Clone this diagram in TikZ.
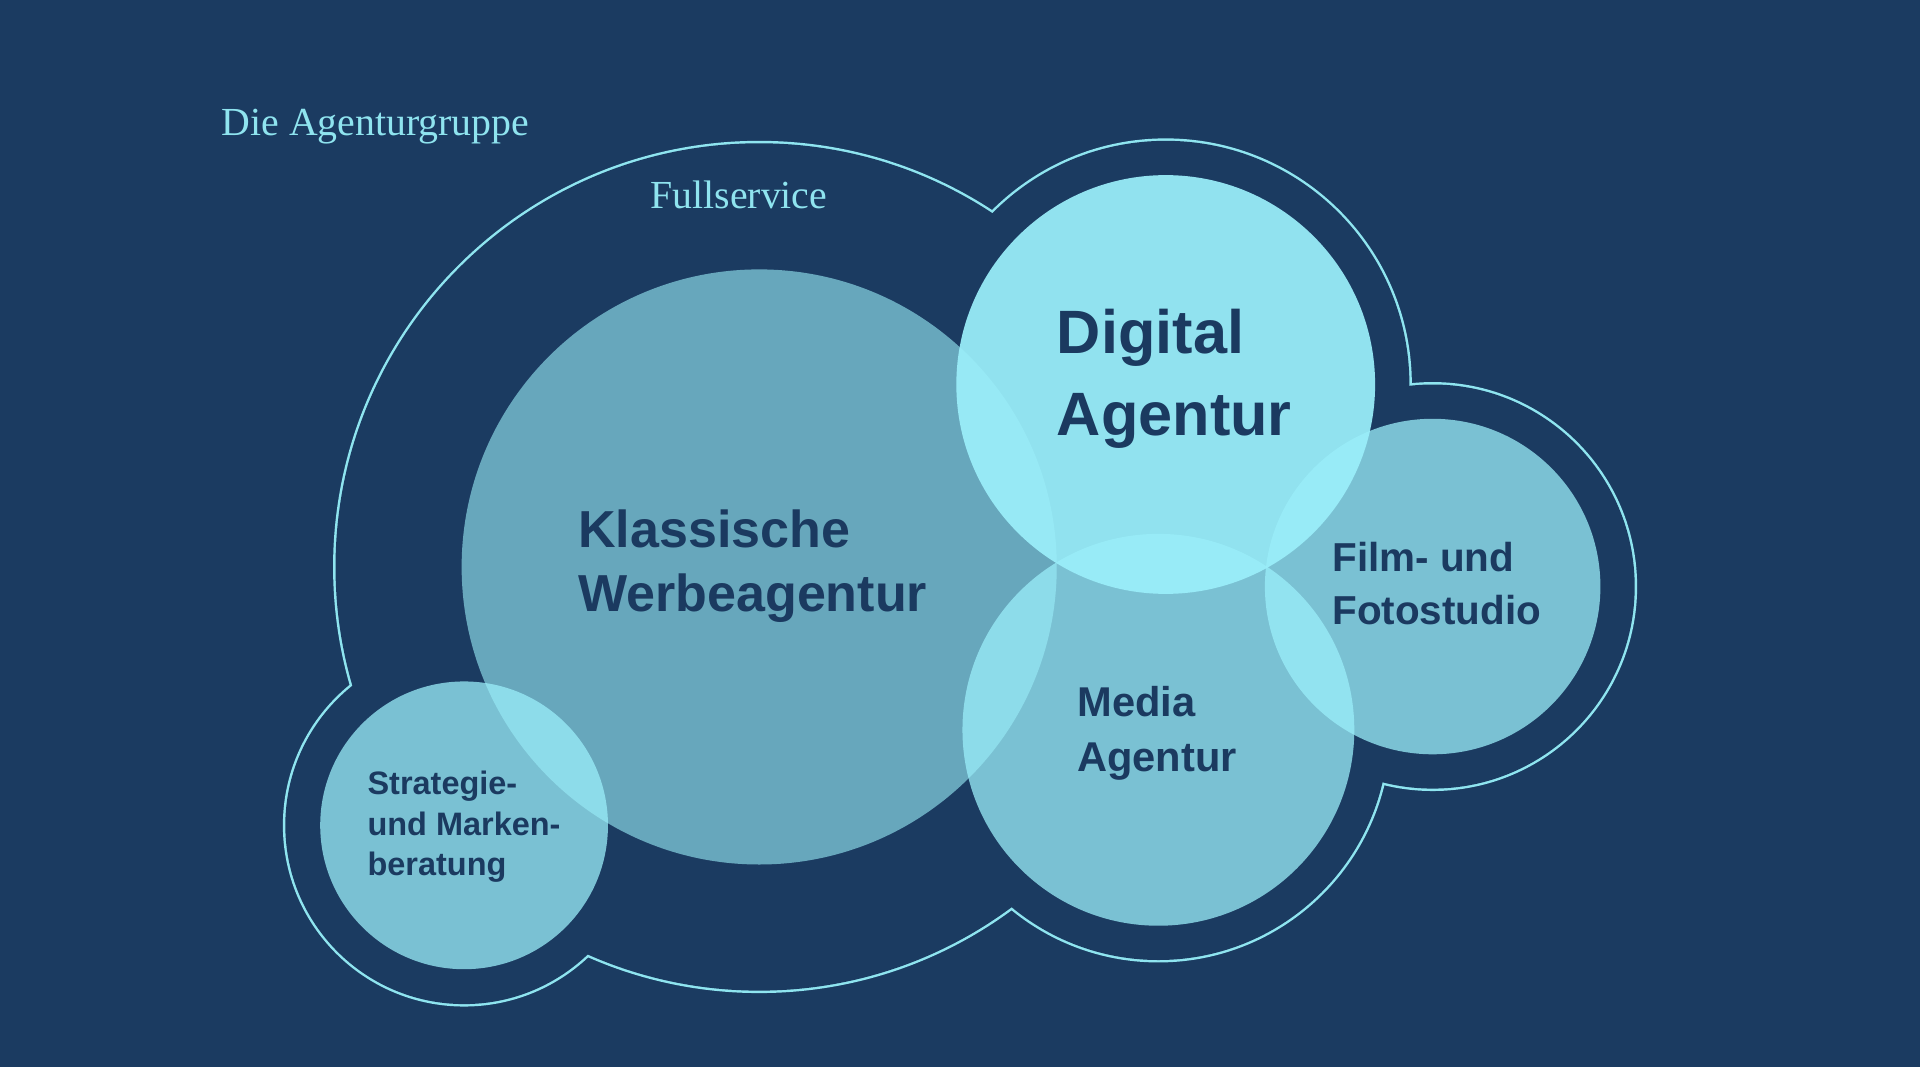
\documentclass[tikz,border=0pt]{standalone}
\usepackage{fontspec}
\setmainfont{Liberation Serif}
\newfontfamily\lblfont{Liberation Sans}
\definecolor{bgc}{HTML}{1B3B61}
\definecolor{cyanL}{HTML}{9BEFFA}
\definecolor{linec}{HTML}{8FE5F0}
\definecolor{titlec}{HTML}{8FE4EF}
\definecolor{txtc}{HTML}{1B3A60}
\tikzset{
  bubble/.style={circle, inner sep=0pt, fill=cyanL, draw=none},
  ring/.style={draw=linec, line width=4pt},
  hole/.style={fill=bgc},
  title/.style={anchor=base west, inner sep=0pt, text=titlec, font=\fontsize{32.5}{38}\selectfont},
  lbl/.style={anchor=base west, inner sep=0pt, align=left, text=txtc},
}
\begin{document}
\begin{tikzpicture}[x=1pt,y=-1pt]
\useasboundingbox (0,0) rectangle (1568,871);
\fill[bgc] (0,0) rectangle (1568,871);
% outline of the group (union of offset circles)
\foreach \cx/\cy/\r in {620/463/346, 952/314/199, 1170/479/165, 946/596/188, 379/674/146}{
  \draw[ring] (\cx,\cy) circle[radius=\r pt];
}
\foreach \cx/\cy/\r in {620/463/346, 952/314/199, 1170/479/165, 946/596/188, 379/674/146}{
  \fill[hole] (\cx,\cy) circle[radius=\r pt];
}
% bubbles
\node[bubble, fill opacity=0.6, minimum size=486pt] (kl) at (620,463) {};
\node[bubble, fill opacity=0.93, minimum size=342pt] (dig) at (952,314) {};
\node[bubble, fill opacity=0.75, minimum size=320pt] (med) at (946,596) {};
\node[bubble, fill opacity=0.75, minimum size=274pt] (film) at (1170,479) {};
\node[bubble, fill opacity=0.75, minimum size=235pt] (strat) at (379,674) {};
% titles
\node[title] (t1) at (180.8,111) {Die Agenturgruppe};
\node[title] (t2) at (531,170) {Fullservice};
% labels (anchor = baseline of the last line)
\node[lbl, font=\lblfont\bfseries\fontsize{42.5}{52}\selectfont] (lkl) at (472,499) {Klassische\\Werbeagentur};
\node[lbl, font=\lblfont\bfseries\fontsize{50}{67}\selectfont] (ldig) at (863,355.3) {Digital\\Agentur};
\node[lbl, font=\lblfont\bfseries\fontsize{34}{45}\selectfont] (lmed) at (879.6,630) {Media\\Agentur};
\node[lbl, font=\lblfont\bfseries\fontsize{33}{43}\selectfont] (lfilm) at (1087.9,510) {Film- und\\Fotostudio};
\node[lbl, font=\lblfont\bfseries\fontsize{26.5}{33}\selectfont] (lstrat) at (300,715) {Strategie-\\und Marken-\\beratung};
\end{tikzpicture}
\end{document}
